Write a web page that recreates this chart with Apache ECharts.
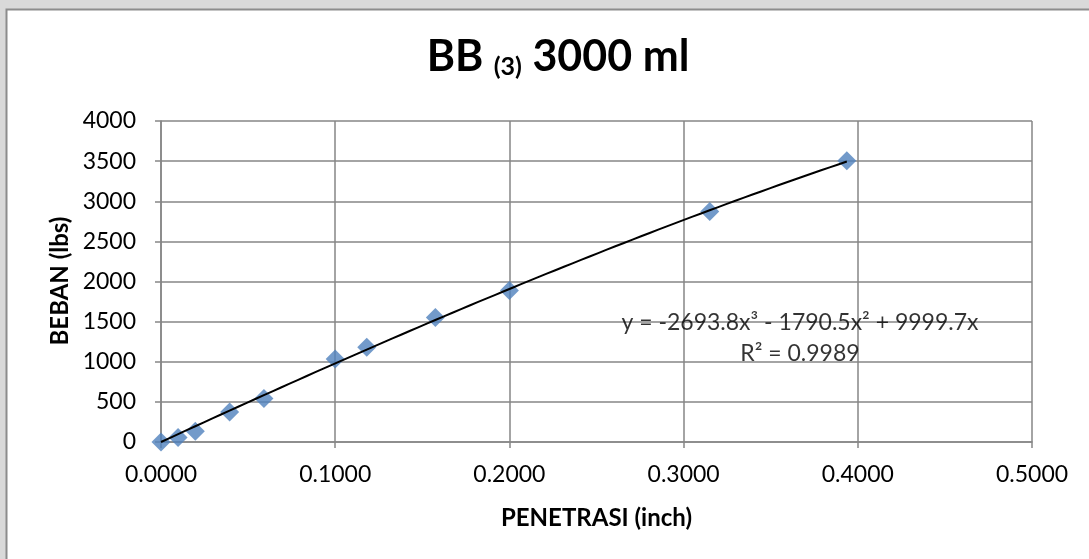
<!DOCTYPE html>
<html><head><meta charset="utf-8">
<style>html,body{margin:0;padding:0;background:#d9d9d9}#c{width:1089px;height:559px}</style>
<script src="https://cdn.jsdelivr.net/npm/echarts@6/dist/echarts.min.js"></script>
</head><body><div id="c"></div>
<script>
const penetrasi = [0, 0.0098, 0.0197, 0.0394, 0.0591, 0.1, 0.1181, 0.1575, 0.2, 0.315, 0.3937];
const beban = [0, 55, 133, 375, 541, 1033, 1181, 1551, 1888, 2872, 3505];
const trendCoef = [0, 9999.7, -1790.5, -2693.8]; // c0 + c1 x + c2 x^2 + c3 x^3
const xTicks = [0, 0.1, 0.2, 0.3, 0.4, 0.5];
const yTicks = [0, 500, 1000, 1500, 2000, 2500, 3000, 3500, 4000];
const yName = 'BEBAN (lbs)';
const eqText = 'y = -2693.8x³ - 1790.5x² + 9999.7x';
const r2Text = 'R² = 0.9989';
const eqAnchor = [0.3668, 1290];

const trend = [];
const xMax = penetrasi[penetrasi.length - 1];
for (let i = 0; i <= 80; i++) {
  const x = xMax * i / 80;
  trend.push([x, trendCoef[0] + trendCoef[1]*x + trendCoef[2]*x*x + trendCoef[3]*x*x*x]);
}
const pts = penetrasi.map((x, i) => [x, beban[i]]);
const FF = 'Lato, "Open Sans", sans-serif';
const chart = echarts.init(document.getElementById('c'));
chart.setOption({
  animation: false,
  backgroundColor: '#d9d9d9',
  graphic: [{
    type: 'rect', z: -10, silent: true,
    shape: {x: 6.5, y: 9.5, width: 1100, height: 600},
    style: {fill: '#ffffff', stroke: '#8c8c8c', lineWidth: 2}
  }, {
    type: 'text', x: 60, y: 281, rotation: Math.PI / 2, silent: true, z: 10,
    style: {text: yName, fontFamily: FF, fontWeight: 'bold', fontSize: 24, fill: '#000',
      textAlign: 'center', textVerticalAlign: 'middle', align: 'center', verticalAlign: 'middle'}
  }],
  title: {
    text: '{a|BB }{b|(3)}{a| 3000 ml}',
    left: 553, top: 31, textAlign: 'center',
    textStyle: {rich: {
      a: {fontFamily: FF, fontWeight: 'bold', fontSize: 43, color: '#000'},
      b: {fontFamily: FF, fontWeight: 'bold', fontSize: 25, color: '#000', verticalAlign: 'bottom', padding: [14, 0, 0, 0]}
    }}
  },
  grid: {left: 161, right: 57, top: 121, bottom: 117, containLabel: false},
  xAxis: {
    type: 'value', min: 0, max: 0.5, interval: 0.1,
    name: 'PENETRASI (inch)', nameLocation: 'middle', nameGap: 64,
    nameTextStyle: {fontFamily: FF, fontWeight: 'bold', fontSize: 24, color: '#000'},
    axisLine: {show: true, lineStyle: {color: '#868686', width: 1.5}},
    axisTick: {show: true, length: 6, lineStyle: {color: '#868686', width: 1.5}},
    axisLabel: {fontFamily: FF, fontSize: 23, color: '#000', margin: 21, formatter: v => v.toFixed(4)},
    splitLine: {show: true, lineStyle: {color: '#868686', width: 1.5}}
  },
  yAxis: {
    type: 'value', min: 0, max: 4000, interval: 500,
    axisLine: {show: true, lineStyle: {color: '#868686', width: 1.5}},
    axisTick: {show: true, length: 6, lineStyle: {color: '#868686', width: 1.5}},
    axisLabel: {fontFamily: FF, fontSize: 23, color: '#000', margin: 25, formatter: v => String(v)},
    splitLine: {show: true, lineStyle: {color: '#868686', width: 1.5}}
  },
  series: [{
    type: 'line', data: trend, showSymbol: false, symbol: 'none', smooth: false,
    lineStyle: {color: '#000', width: 2}, z: 3
  }, {
    type: 'scatter', data: pts, symbol: 'diamond', symbolSize: [19, 19],
    itemStyle: {color: '#4f81bd'}, z: 2
  }, {
    type: 'scatter', data: [eqAnchor], symbolSize: 0, silent: true, z: 4,
    label: {show: true, position: 'inside', formatter: eqText + '\n' + r2Text,
      fontFamily: FF, fontSize: 23, color: '#000', lineHeight: 31, align: 'center'}
  }]
});
</script></body></html>
